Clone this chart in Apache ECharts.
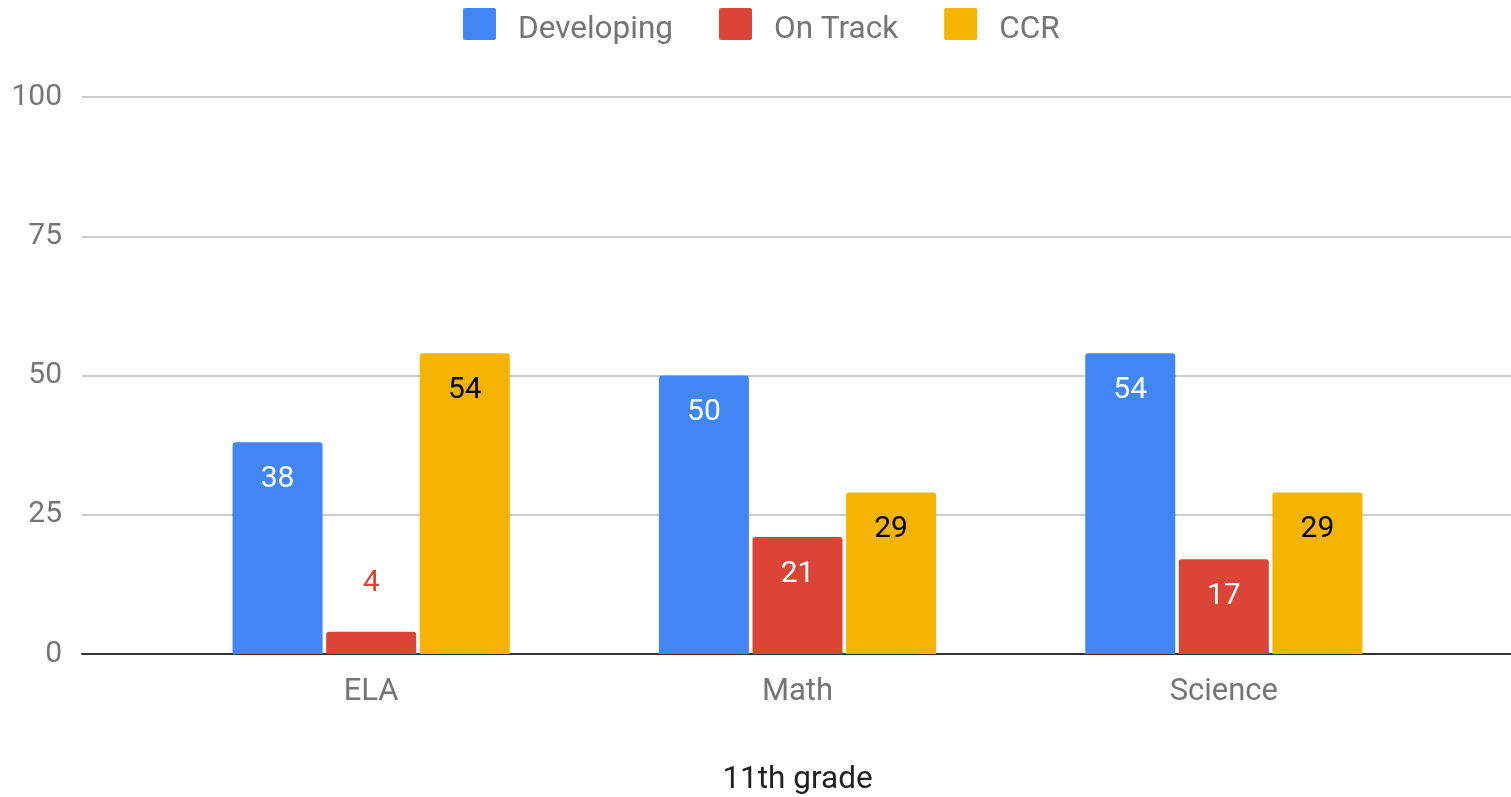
<!DOCTYPE html>
<html>
<head>
<meta charset="utf-8">
<script src="https://cdn.jsdelivr.net/npm/echarts@6/dist/echarts.min.js"></script>
<style>
  html, body { margin: 0; padding: 0; background: #fff; }
  #chart { width: 1511px; height: 797px; }
</style>
</head>
<body>
<div id="chart"></div>
<script>
'use strict';

const categories = ['ELA', 'Math', 'Science'];
const developing = [38, 50, 54];
const onTrack = [4, 21, 17];
const ccr = [54, 29, 29];
const axisTitle = '11th grade';

const FONT = 'Roboto, "Noto Sans", sans-serif';
const GRAY = '#757575';

// labels sit inside the bar top, or above it when the bar is too short
function toData(values, color) {
  return values.map(v => {
    if (v >= 10) return v;
    return { value: v, label: { position: 'top', distance: 33, color: color } };
  });
}

function barSeries(name, values, color, labelColor) {
  return {
    name: name,
    type: 'bar',
    xAxisIndex: 1,
    yAxisIndex: 1,
    barWidth: 90,
    barGap: '4%',
    data: toData(values, color),
    itemStyle: { color: color, borderRadius: [3, 3, 0, 0] },
    label: {
      show: true,
      position: 'insideTop',
      distance: 22,
      color: labelColor,
      fontFamily: FONT,
      fontSize: 30
    }
  };
}

const chart = echarts.init(document.getElementById('chart'));
chart.setOption({
  animation: false,
  backgroundColor: '#fff',
  legend: {
    top: 8,
    left: 463,
    padding: 0,
    itemWidth: 33,
    itemHeight: 32,
    itemGap: 46,
    icon: 'path://M2,0 L31,0 Q33,0 33,2 L33,30 Q33,32 31,32 L2,32 Q0,32 0,30 L0,2 Q0,0 2,0 Z',
    formatter: '{t|{name}}',
    textStyle: {
      color: GRAY,
      fontFamily: FONT,
      fontSize: 31.5,
      rich: {
        t: { color: GRAY, fontFamily: FONT, fontSize: 31.5, padding: [12, 0, 0, 17] }
      }
    },
    data: ['Developing', 'On Track', 'CCR']
  },
  grid: [
    { left: 82, right: 0, top: 97, bottom: 143, outerBoundsMode: 'none' },
    { left: 158, right: 74, top: 97, bottom: 143, outerBoundsMode: 'none' }
  ],
  xAxis: [
    {
      gridIndex: 0,
      type: 'value',
      min: 0,
      max: 1,
      axisLine: { show: true, onZero: false, lineStyle: { color: '#333', width: 2 } },
      axisTick: { show: false },
      axisLabel: { show: false },
      splitLine: { show: false }
    },
    {
      gridIndex: 1,
      type: 'category',
      data: categories,
      axisLine: { show: false },
      axisTick: { show: false },
      axisLabel: { color: GRAY, fontFamily: FONT, fontSize: 31, margin: 23 },
      name: axisTitle,
      nameLocation: 'middle',
      nameGap: 110,
      nameTextStyle: { color: '#222', fontFamily: FONT, fontSize: 31.5 }
    }
  ],
  yAxis: [
    {
      gridIndex: 0,
      type: 'value',
      min: 0,
      max: 100,
      interval: 25,
      axisLine: { show: false },
      axisTick: { show: false },
      axisLabel: { color: GRAY, fontFamily: FONT, fontSize: 30, margin: 20, padding: [8, 0, 0, 0] },
      splitLine: { lineStyle: { color: '#cccccc', width: 2 } }
    },
    {
      gridIndex: 1,
      type: 'value',
      min: 0,
      max: 100,
      show: false,
      splitLine: { show: false }
    }
  ],
  series: [
    barSeries('Developing', developing, '#4285f4', '#ffffff'),
    barSeries('On Track', onTrack, '#db4437', '#ffffff'),
    barSeries('CCR', ccr, '#f4b400', '#000000')
  ]
});
</script>
</body>
</html>
